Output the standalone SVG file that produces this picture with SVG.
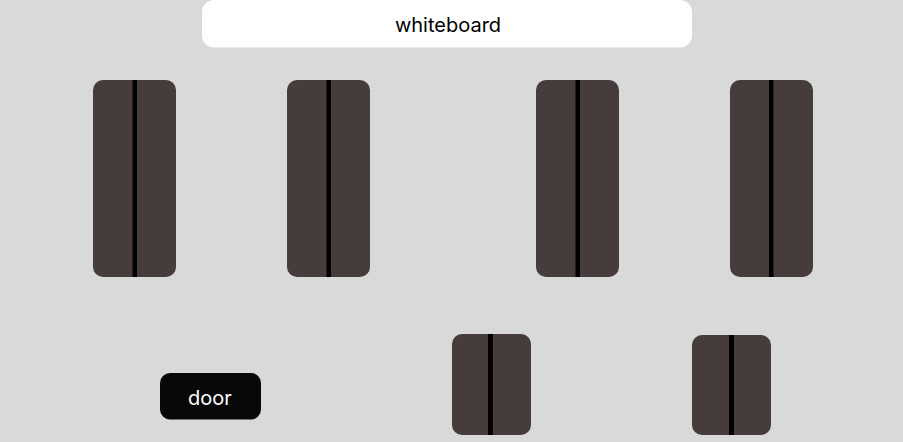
<svg xmlns="http://www.w3.org/2000/svg" width="903" height="442" viewBox="0 0 903 442">
<style>
.t{fill:#463c3b}
.l{fill:#000}
.txt{font-family:Inter,"Noto Sans",sans-serif;font-size:20px;text-anchor:middle;dominant-baseline:central}
</style>
<rect width="903" height="442" fill="#d9d9d9"/>
<g id="whiteboard"><rect x="202" y="0" width="490" height="47.5" rx="12" fill="#fff"/><text class="txt" x="448" y="25" fill="#000">whiteboard</text></g>
<g id="table1"><rect class="t" x="93" y="80" width="83" height="197" rx="10"/><rect class="l" x="132.5" y="80" width="4.5" height="197"/></g>
<g id="table2"><rect class="t" x="287" y="80" width="83" height="197" rx="10"/><rect class="l" x="326.5" y="80" width="4.5" height="197"/></g>
<g id="table3"><rect class="t" x="536" y="80" width="83" height="197" rx="10"/><rect class="l" x="575.5" y="80" width="4.5" height="197"/></g>
<g id="table4"><rect class="t" x="730" y="80" width="83" height="197" rx="10"/><rect class="l" x="769" y="80" width="4.5" height="197"/></g>
<g id="table5"><rect class="t" x="452" y="334" width="79" height="101" rx="10"/><rect class="l" x="488" y="334" width="5" height="101"/></g>
<g id="table6"><rect class="t" x="692" y="335" width="79" height="100" rx="10"/><rect class="l" x="729" y="335" width="5" height="100"/></g>
<g id="door"><rect x="160" y="373" width="101" height="46.5" rx="10" fill="#080808"/><text class="txt" x="210" y="397.5" fill="#fff">door</text></g>
<g id="connectors"/>
</svg>
